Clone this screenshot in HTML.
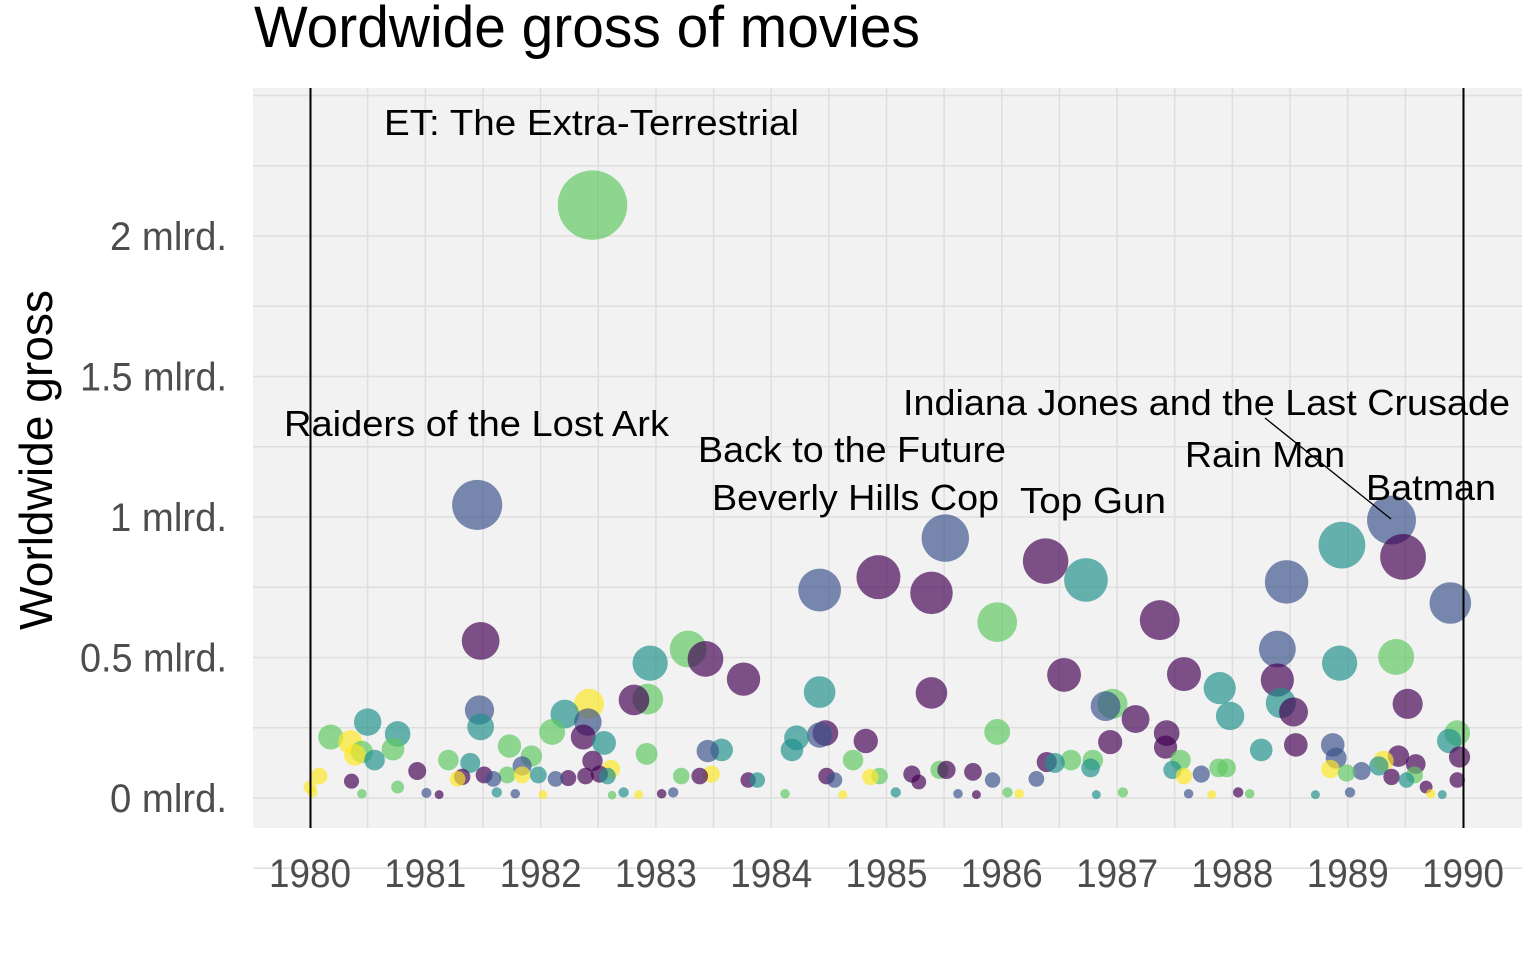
<!DOCTYPE html>
<html><head><meta charset="utf-8"><style>
html,body{margin:0;padding:0;background:#fff;}
svg{display:block;font-family:"Liberation Sans",sans-serif;}
</style></head><body>
<svg id="chart" width="1536" height="960" viewBox="0 0 1536 960" xmlns="http://www.w3.org/2000/svg">
<rect x="253" y="88" width="1269" height="740" fill="#f2f2f2"/>
<g id="grid"></g>
<g id="points"></g>
<line x1="310.5" y1="88" x2="310.5" y2="828" stroke="#000" stroke-width="2"/>
<line x1="1463.5" y1="88" x2="1463.5" y2="828" stroke="#000" stroke-width="2"/>
<line x1="1265" y1="418" x2="1391" y2="519" stroke="#000" stroke-width="1.3"/>
<g id="labels" font-size="36" fill="#000">
<text x="384" y="135" textLength="415" lengthAdjust="spacingAndGlyphs">ET: The Extra-Terrestrial</text>
<text x="284" y="436" textLength="385" lengthAdjust="spacingAndGlyphs">Raiders of the Lost Ark</text>
<text x="698" y="462" textLength="308" lengthAdjust="spacingAndGlyphs">Back to the Future</text>
<text x="712" y="510" textLength="287" lengthAdjust="spacingAndGlyphs">Beverly Hills Cop</text>
<text x="1020" y="513" textLength="146" lengthAdjust="spacingAndGlyphs">Top Gun</text>
<text x="903" y="415" textLength="607" lengthAdjust="spacingAndGlyphs">Indiana Jones and the Last Crusade</text>
<text x="1185" y="467" textLength="160" lengthAdjust="spacingAndGlyphs">Rain Man</text>
<text x="1366" y="500" textLength="130" lengthAdjust="spacingAndGlyphs">Batman</text>
</g>
<g id="yticks" font-size="40" fill="#4d4d4d" text-anchor="end"></g>
<g id="xticks" font-size="40" fill="#4d4d4d" text-anchor="middle"></g>
<text transform="translate(52,460) rotate(-90)" text-anchor="middle" font-size="46" textLength="340" lengthAdjust="spacingAndGlyphs">Worldwide gross</text>
<text x="254" y="47" font-size="58" textLength="666" lengthAdjust="spacingAndGlyphs">Wordwide gross of movies</text>
</svg>
<script>
const years=[1982.45,1981.45,1981.48,1981.47,1981.48,1980.50,1980.76,1980.18,1980.35,1980.39,1980.45,1980.56,1980.72,1980.93,1980.36,1980.08,1980.0,1980.76,1981.01,
1981.20,1981.39,1981.28,1981.32,1981.51,1981.59,1981.71,1981.73,1981.84,1981.92,1981.84,1981.98,1982.10,1982.21,1982.42,1982.41,1982.37,1982.55,1982.45,1982.61,1982.13,1982.24,1982.39,1982.51,1982.58,
1982.81,1982.93,1982.95,1983.28,1983.43,1982.92,1983.22,1983.38,1983.48,1983.45,1983.57,1983.76,1983.80,1983.88,
1984.42,1984.42,1984.22,1984.18,1984.47,1984.42,1984.82,1984.71,1984.48,1984.55,
1984.93,1985.39,1985.51,1985.39,1985.96,1985.96,1984.86,1984.94,1985.22,1985.28,1985.46,1985.52,1985.75,1985.92,
1986.38,1986.73,1986.54,1986.90,1986.96,1987.16,1986.94,1986.39,1986.46,1986.60,1986.77,1986.79,1986.30,
1987.37,1987.58,1987.43,1987.42,1987.55,1987.48,1987.58,1987.73,1987.88,1987.95,1987.89,1987.98,
1988.47,1988.39,1988.39,1988.42,1988.53,1988.55,1988.25,1988.95,1988.93,
1989.38,1989.48,1989.42,1989.52,1989.89,1989.95,1989.88,1989.97,1988.87,1988.90,1988.85,1988.99,1989.12,1989.27,1989.31,1989.44,1989.59,1989.58,1989.38,1989.51,1989.68,1989.95,
1980.02,1980.45,1981.12,1981.62,1981.78,1982.02,1982.62,1982.72,1982.85,1983.05,1983.15,1984.12,1984.62,1985.08,1985.62,1985.78,1986.05,1986.15,1986.82,1987.05,1987.62,1987.82,1988.05,1988.15,1988.72,1989.02,1989.72,1989.82];
const gross=[2.110,1.043,0.559,0.313,0.253,0.270,0.228,0.217,0.199,0.153,0.164,0.135,0.174,0.096,0.060,0.078,0.039,0.039,0.018,
0.135,0.125,0.068,0.075,0.082,0.068,0.082,0.185,0.114,0.149,0.082,0.082,0.235,0.299,0.335,0.270,0.217,0.196,0.132,0.103,0.068,0.071,0.078,0.085,0.078,
0.349,0.352,0.480,0.530,0.495,0.157,0.078,0.078,0.085,0.167,0.171,0.423,0.064,0.064,
0.740,0.377,0.214,0.171,0.231,0.224,0.203,0.135,0.078,0.064,
0.786,0.730,0.925,0.374,0.626,0.235,0.075,0.078,0.085,0.057,0.100,0.100,0.093,0.064,
0.843,0.776,0.438,0.327,0.335,0.281,0.199,0.128,0.125,0.135,0.107,0.135,0.068,
0.633,0.441,0.231,0.181,0.135,0.100,0.078,0.085,0.107,0.107,0.391,0.292,
0.769,0.530,0.420,0.338,0.306,0.189,0.171,0.900,0.480,
0.989,0.858,0.502,0.335,0.694,0.231,0.203,0.146,0.189,0.142,0.103,0.089,0.096,0.114,0.132,0.149,0.121,0.082,0.075,0.064,0.039,0.064,
0.02,0.015,0.012,0.02,0.015,0.012,0.01,0.02,0.012,0.015,0.02,0.015,0.012,0.02,0.015,0.012,0.02,0.015,0.012,0.02,0.015,0.012,0.02,0.015,0.012,0.02,0.015,0.012];
const genres=("g b p b t t t g y y g t g p p y y g b "+
"g t y p p b g g b g y t g t y b p t p y b p p p t "+
"p g t g p g g p y b t p p t "+
"b t t t p b p g p b "+
"p p b p g g y g p p g p p b "+
"p t p b g p p p t g t g b "+
"p p p p g t y b g g t t "+
"b b p t p p t t t "+
"b p g p b g t p b b y g b t y p p g p t p p "+
"y g p t b y g t y p b g y t b p g y t g b y p g t b y t").split(" ");
const genreColors={p:"#440154",b:"#3b528b",t:"#21908c",g:"#5ec962",y:"#fde725"};
const yTickVals=[0,0.5,1,1.5,2];
const yTickLabels=["0 mlrd.","0.5 mlrd.","1 mlrd.","1.5 mlrd.","2 mlrd."];
const xTickVals=[1980,1981,1982,1983,1984,1985,1986,1987,1988,1989,1990];

const NS="http://www.w3.org/2000/svg";
function xs(v){return 310+(v-1980)*115.3;}
function ys(v){return 798-v*281;}
function rs(v){return 2+23*Math.sqrt(Math.max(v,0)/1.04);}
function mk(tag,attrs,parent){const e=document.createElementNS(NS,tag);for(const k in attrs)e.setAttribute(k,attrs[k]);parent.appendChild(e);return e;}
const grid=document.getElementById('grid');
for(let v=-0.25;v<=2.5;v+=0.25){
  const l=mk('line',{x1:253,x2:1522,y1:ys(v),y2:ys(v),stroke:"#dedede","stroke-width":1.5},grid);
  
  
}
for(let v=1980;v<=1990;v+=0.5){
  const l=mk('line',{x1:xs(v),x2:xs(v),y1:88,y2:828,stroke:"#dedede","stroke-width":1.5},grid);
  
  
}
const pts=document.getElementById('points');
const order=gross.map((g,i)=>i).sort((a,b)=>gross[b]-gross[a]);
for(const i of order){
  const c=genreColors[genres[i]]||"#21908c";
  const e=mk('circle',{cx:xs(years[i]),cy:ys(gross[i]),r:rs(gross[i]),fill:c,"fill-opacity":0.68},pts);
  
  
}
const yt=document.getElementById('yticks');
yTickVals.forEach((v,i)=>{
  const t=mk('text',{x:227,y:ys(v)+14,textLength:yTickLabels[i].length>7?147:117,lengthAdjust:"spacingAndGlyphs"},yt);
  t.textContent=yTickLabels[i];
  
  
});
const xt=document.getElementById('xticks');
xTickVals.forEach(v=>{
  const t=mk('text',{x:xs(v),y:887,textLength:82,lengthAdjust:"spacingAndGlyphs"},xt);
  t.textContent=String(v);
  
  
});
</script>
</body></html>
